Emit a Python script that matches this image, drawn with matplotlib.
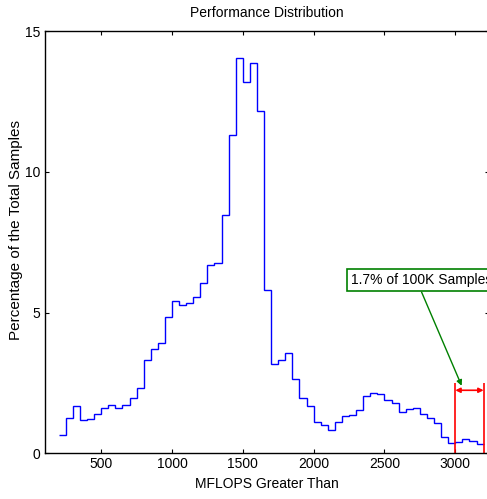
import numpy as np
import matplotlib
matplotlib.use("Agg")
import matplotlib.pyplot as plt

plt.rcParams['font.family'] = ['Liberation Sans', 'DejaVu Sans']

# histogram bins (MFLOPS) and percentage of samples in each bin
bin_edges = np.arange(200, 3201, 50)
percent = [0.64, 1.25, 1.68, 1.17, 1.23, 1.40, 1.60, 1.72, 1.62, 1.72,
           1.96, 2.33, 3.30, 3.72, 3.93, 4.85, 5.43, 5.28, 5.34, 5.57,
           6.05, 6.68, 6.75, 8.48, 11.30, 14.06, 13.20, 13.88, 12.16, 5.81,
           3.18, 3.30, 3.56, 2.64, 1.97, 1.68, 1.10, 1.01, 0.83, 1.12,
           1.34, 1.37, 1.53, 2.03, 2.16, 2.09, 1.91, 1.78, 1.46, 1.57,
           1.60, 1.40, 1.25, 1.09, 0.59, 0.38, 0.41, 0.50, 0.44, 0.33]

# highlighted tail region
tail_lo, tail_hi = 3000, 3200
tail_label = "1.7% of 100K Samples"

fig = plt.figure(figsize=(4.87, 4.99), dpi=100)
ax = fig.add_axes([0.0914, 0.0916, 0.9133, 0.8457])

ax.stairs(percent, bin_edges, baseline=None, color='#0000ff', lw=1.0)

# bracket around the tail
ax.vlines([tail_lo, tail_hi], 0, 2.5, color='red', lw=1.2)
ax.annotate('', xy=(tail_lo, 2.24), xytext=(tail_hi, 2.24),
            arrowprops=dict(arrowstyle='<|-|>', color='red', lw=1.2,
                            mutation_scale=7, shrinkA=0, shrinkB=0))

ax.text(2262, 6.15, tail_label, fontsize=10, ha='left', va='center',
        bbox=dict(boxstyle='square,pad=0.3', fc='white', ec='green', lw=1.2))
ax.annotate('', xy=(3045, 2.4), xytext=(2762, 5.73),
            arrowprops=dict(arrowstyle='-|>', color='green', lw=1.0,
                            mutation_scale=8, shrinkA=0, shrinkB=0))

ax.set_xlim(100, 3240)
ax.set_ylim(0, 15)
ax.set_xticks(np.arange(500, 3001, 500))
ax.set_yticks([0, 5, 10, 15])
ax.tick_params(direction='in', length=3, width=0.8, top=True, right=True,
               labelsize=10, pad=3)
for s in ax.spines.values():
    s.set_linewidth(1.0)

ax.set_title("Performance Distribution", fontsize=10, pad=10)
ax.set_xlabel("MFLOPS Greater Than", fontsize=10, labelpad=4)
ax.set_ylabel("Percentage of the Total Samples", fontsize=11)
ax.yaxis.set_label_coords(-0.049, 0.528)

fig.savefig("out.png", dpi=100)
